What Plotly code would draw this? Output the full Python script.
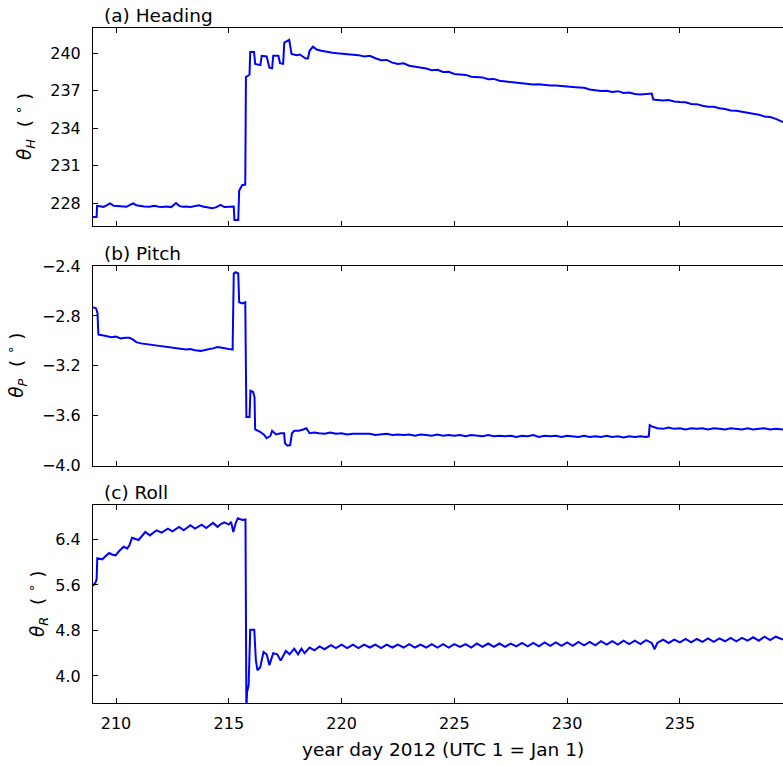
import plotly.graph_objects as go

# ---------------- data ----------------
heading_day = [
    208.98, 209.14, 209.16, 209.3, 209.45, 209.6, 209.74, 209.9, 210.1, 210.3,
    210.47, 210.6, 210.76, 210.9, 211.05, 211.25, 211.49, 211.7, 211.9, 212.05,
    212.22, 212.45, 212.66, 212.8, 212.95, 213.1, 213.3, 213.5, 213.68, 213.85,
    213.98, 214.15, 214.27, 214.45, 214.64, 214.8, 214.95, 215.1, 215.22, 215.25,
    215.42, 215.46, 215.59, 215.73, 215.76, 215.85, 215.92, 215.95, 216.12, 216.17,
    216.4, 216.46, 216.68, 216.8, 216.92, 216.97, 217.2, 217.27, 217.41, 217.46,
    217.68, 217.78, 218.0, 218.15, 218.41, 218.51, 218.58, 218.73, 218.9, 219.1,
    219.32, 219.5, 219.6, 219.8,
    220.0, 220.25, 220.5, 220.75, 221.0, 221.25, 221.5, 221.75, 222.0, 222.25,
    222.5, 222.75, 223.0, 223.25, 223.5, 223.75, 224.0, 224.25, 224.5, 224.75,
    225.0, 225.25, 225.5, 225.75, 226.0, 226.25, 226.5, 226.75, 227.0, 227.25,
    227.5, 227.75, 228.0, 228.25, 228.5, 228.75, 229.0, 229.25, 229.5, 229.75,
    230.0, 230.25, 230.5, 230.75, 231.0, 231.25, 231.5, 231.75, 232.0, 232.25,
    232.5, 232.75, 233.0, 233.25, 233.5, 233.75, 233.82, 234.0, 234.25, 234.5,
    234.75, 235.0, 235.25, 235.5, 235.75, 236.0, 236.25, 236.5, 236.75, 237.0,
    237.25, 237.5, 237.75, 238.0, 238.25, 238.5, 238.75, 239.0, 239.25, 239.57,
]
heading_val = [
    226.9, 226.9, 227.8, 227.75, 227.72, 227.85, 228.0, 227.8, 227.78, 227.72,
    227.72, 227.85, 228.0, 227.85, 227.8, 227.75, 227.72, 227.8, 227.72, 227.7,
    227.75, 227.7, 228.02, 227.8, 227.72, 227.75, 227.7, 227.8, 227.85, 227.75,
    227.7, 227.62, 227.6, 227.7, 227.88, 227.7, 227.72, 227.72, 227.74, 226.67,
    226.67, 229.0, 229.45, 229.5, 238.1, 238.2, 238.3, 240.1, 240.1, 239.15,
    239.05, 239.8, 239.75, 238.85, 238.8, 239.8, 239.8, 239.2, 239.15, 240.85,
    241.07, 239.95, 239.85, 239.9, 239.58, 239.58, 240.2, 240.53, 240.3, 240.2,
    240.16, 240.1, 240.05, 240.0,
    239.98, 239.9, 239.93, 239.85, 239.75, 239.8, 239.6, 239.45, 239.47, 239.25,
    239.15, 239.2, 239.0, 238.92, 238.9, 238.78, 238.65, 238.68, 238.5, 238.52,
    238.35, 238.3, 238.27, 238.12, 238.08, 238.07, 237.92, 237.95, 237.8, 237.75,
    237.74, 237.68, 237.6, 237.6, 237.5, 237.53, 237.45, 237.42, 237.42, 237.38,
    237.3, 237.25, 237.27, 237.24, 237.1, 237.05, 236.98, 237.0, 236.9, 236.97,
    236.82, 236.87, 236.75, 236.7, 236.75, 236.78, 236.3, 236.28, 236.22, 236.27,
    236.15, 236.1, 236.08, 235.95, 235.93, 235.8, 235.72, 235.72, 235.6, 235.55,
    235.42, 235.4, 235.33, 235.28, 235.18, 235.08, 234.95, 234.9, 234.75, 234.5,
]

pitch_day = [
    208.98, 209.12, 209.18, 209.22, 209.4, 209.6, 209.8, 210.0, 210.2, 210.4,
    210.6, 210.76, 210.9, 211.1, 211.3, 211.5, 211.7, 211.9, 212.1, 212.3,
    212.5, 212.7, 212.9, 213.1, 213.3, 213.5, 213.76, 213.95, 214.15, 214.3,
    214.5, 214.7, 214.9, 215.07, 215.17, 215.22, 215.3, 215.42, 215.46, 215.6,
    215.73, 215.78, 215.92, 215.96, 216.08, 216.14, 216.17, 216.39, 216.55, 216.68,
    216.85, 216.92, 217.1, 217.3, 217.45, 217.49, 217.6, 217.72, 217.8, 217.9,
    218.1, 218.3, 218.44, 218.58, 218.8,
    219.0, 219.25, 219.5, 219.75, 220.0, 220.25, 220.5, 220.75, 221.0, 221.25,
    221.5, 221.75, 222.0, 222.25, 222.5, 222.75, 223.0, 223.25, 223.5, 223.75,
    224.0, 224.25, 224.5, 224.75, 225.0, 225.25, 225.5, 225.75, 226.0, 226.25,
    226.5, 226.75, 227.0, 227.25, 227.5, 227.75, 228.0, 228.25, 228.5, 228.75,
    229.0, 229.25, 229.5, 229.75, 230.0, 230.25, 230.5, 230.75, 231.0, 231.25,
    231.5, 231.75, 232.0, 232.25, 232.5, 232.75, 233.0, 233.25, 233.5, 233.62,
    233.66, 233.75, 234.0, 234.25, 234.5, 234.75, 235.0, 235.25, 235.5, 235.75,
    236.0, 236.25, 236.5, 236.75, 237.0, 237.25, 237.5, 237.75, 238.0, 238.25,
    238.5, 238.75, 239.0, 239.25, 239.57,
]
pitch_val = [
    -2.73, -2.74, -2.78, -2.95, -2.955, -2.96, -2.97, -2.965, -2.98, -2.975,
    -2.975, -2.99, -3.01, -3.02, -3.025, -3.03, -3.04, -3.045, -3.05, -3.05,
    -3.055, -3.06, -3.065, -3.07, -3.065, -3.075, -3.08, -3.07, -3.065, -3.06,
    -3.05, -3.055, -3.06, -3.07, -3.07, -2.46, -2.45, -2.46, -2.69, -2.70,
    -2.69, -3.61, -3.61, -3.40, -3.41, -3.45, -3.71, -3.73, -3.75, -3.78,
    -3.76, -3.72, -3.75, -3.74, -3.74, -3.82, -3.84, -3.835, -3.74, -3.72,
    -3.72, -3.71, -3.70, -3.74, -3.735,
    -3.74, -3.745, -3.735, -3.745, -3.74, -3.75, -3.745, -3.745, -3.75, -3.745,
    -3.755, -3.75, -3.745, -3.755, -3.75, -3.755, -3.75, -3.76, -3.75, -3.755,
    -3.76, -3.75, -3.76, -3.755, -3.76, -3.755, -3.765, -3.755, -3.76, -3.765,
    -3.755, -3.765, -3.76, -3.765, -3.76, -3.77, -3.76, -3.765, -3.755, -3.77,
    -3.76, -3.765, -3.76, -3.77, -3.76, -3.765, -3.77, -3.76, -3.77, -3.765,
    -3.77, -3.76, -3.77, -3.765, -3.775, -3.765, -3.77, -3.765, -3.77, -3.765,
    -3.675, -3.685, -3.70, -3.705, -3.695, -3.705, -3.70, -3.71, -3.70, -3.705,
    -3.70, -3.71, -3.70, -3.705, -3.71, -3.70, -3.705, -3.71, -3.70, -3.71,
    -3.705, -3.70, -3.71, -3.705, -3.71,
]

roll_day = [
    208.98, 209.1, 209.14, 209.17, 209.39, 209.55, 209.69, 209.85, 209.98, 210.15,
    210.34, 210.5, 210.6, 210.71, 210.85, 211.0, 211.15, 211.3, 211.5, 211.65,
    211.8, 212.02, 212.15, 212.3, 212.5, 212.65, 212.8, 213.0, 213.15, 213.3,
    213.5, 213.65, 213.8, 214.0, 214.15, 214.3, 214.5, 214.65, 214.8, 215.0,
    215.1, 215.2, 215.3, 215.4, 215.6, 215.74, 215.78, 215.81, 215.88, 215.95,
    216.13, 216.2, 216.27, 216.39, 216.54, 216.68, 216.8, 216.97, 217.15, 217.3,
    217.53, 217.7, 217.9, 218.07, 218.22, 218.36, 218.58, 218.8, 219.02, 219.24,
    219.53, 219.75,
    220.0, 220.25, 220.5, 220.75, 221.0, 221.25, 221.5, 221.75, 222.0, 222.25,
    222.5, 222.75, 223.0, 223.25, 223.5, 223.75, 224.0, 224.25, 224.5, 224.75,
    225.0, 225.25, 225.5, 225.75, 226.0, 226.25, 226.5, 226.75, 227.0, 227.25,
    227.5, 227.75, 228.0, 228.25, 228.5, 228.75, 229.0, 229.25, 229.5, 229.75,
    230.0, 230.25, 230.5, 230.75, 231.0, 231.25, 231.5, 231.75, 232.0, 232.25,
    232.5, 232.75, 233.0, 233.25, 233.5, 233.75, 233.88, 234.0, 234.25, 234.5,
    234.75, 235.0, 235.25, 235.5, 235.75, 236.0, 236.25, 236.5, 236.75, 237.0,
    237.25, 237.5, 237.75, 238.0, 238.25, 238.5, 238.75, 239.0, 239.25, 239.57,
]
roll_val = [
    5.58, 5.65, 5.7, 6.07, 6.05, 6.1, 6.16, 6.13, 6.12, 6.2,
    6.27, 6.24, 6.3, 6.43, 6.41, 6.39, 6.46, 6.53, 6.47, 6.51,
    6.56, 6.52, 6.56, 6.59, 6.54, 6.58, 6.62, 6.56, 6.61, 6.65,
    6.59, 6.63, 6.66, 6.6, 6.65, 6.69, 6.62, 6.67, 6.7, 6.66,
    6.71, 6.53, 6.68, 6.77, 6.74, 6.75, 3.40, 3.72, 3.84, 4.81,
    4.81, 4.28, 4.10, 4.15, 4.42, 4.38, 4.19, 4.40, 4.38, 4.27,
    4.44, 4.38, 4.48, 4.38, 4.48, 4.40, 4.50, 4.45, 4.52, 4.47,
    4.54, 4.49,
    4.55, 4.49, 4.55, 4.49, 4.55, 4.50, 4.55, 4.49, 4.55, 4.50,
    4.55, 4.50, 4.56, 4.50, 4.55, 4.50, 4.56, 4.50, 4.56, 4.50,
    4.56, 4.51, 4.56, 4.50, 4.57, 4.51, 4.57, 4.51, 4.57, 4.51,
    4.57, 4.52, 4.58, 4.52, 4.58, 4.52, 4.59, 4.53, 4.59, 4.53,
    4.59, 4.53, 4.60, 4.54, 4.60, 4.54, 4.61, 4.55, 4.61, 4.55,
    4.62, 4.56, 4.62, 4.56, 4.63, 4.58, 4.47, 4.58, 4.64, 4.58,
    4.64, 4.59, 4.65, 4.59, 4.65, 4.60, 4.66, 4.60, 4.66, 4.61,
    4.67, 4.61, 4.67, 4.62, 4.68, 4.62, 4.69, 4.63, 4.69, 4.64,
]

x_tickvals = [210, 215, 220, 225, 230, 235]
x_ticktext = ["210", "215", "220", "225", "230", "235"]
h_tickvals = [228, 231, 234, 237, 240]
h_ticktext = ["228", "231", "234", "237", "240"]
p_tickvals = [-4.0, -3.6, -3.2, -2.8, -2.4]
p_ticktext = ["\u22124.0", "\u22123.6", "\u22123.2", "\u22122.8", "\u22122.4"]
r_tickvals = [4.0, 4.8, 5.6, 6.4]
r_ticktext = ["4.0", "4.8", "5.6", "6.4"]

panel_titles = ["(a) Heading", "(b) Pitch", "(c) Roll"]
y_titles = [
    "<i>θ<sub>H</sub></i>  ( <sup>∘</sup> )",
    "<i>θ<sub>P</sub></i>  ( <sup>∘</sup> )",
    "<i>θ<sub>R</sub></i>  ( <sup>∘</sup> )",
]
x_title = "year day 2012 (UTC 1 = Jan 1)"

# ---------------- figure ----------------
FONT = "DejaVu Sans"
TICK_SIZE = 16
TITLE_SIZE = 18.5
LINE = dict(color="#0000ff", width=2)

fig = go.Figure()
fig.add_trace(go.Scatter(x=heading_day, y=heading_val, mode="lines", line=LINE,
                         xaxis="x", yaxis="y", showlegend=False))
fig.add_trace(go.Scatter(x=pitch_day, y=pitch_val, mode="lines", line=LINE,
                         xaxis="x2", yaxis="y2", showlegend=False))
fig.add_trace(go.Scatter(x=roll_day, y=roll_val, mode="lines", line=LINE,
                         xaxis="x3", yaxis="y3", showlegend=False))

xcommon = dict(range=[208.98, 239.57], tickvals=x_tickvals, ticktext=x_ticktext,
               ticks="inside", ticklen=5, tickwidth=1, tickcolor="#000",
               showline=True, linecolor="#000", linewidth=1, mirror="ticks",
               showgrid=False, zeroline=False,
               tickfont=dict(family=FONT, size=TICK_SIZE, color="#000"),
               ticklabelstandoff=6)
ycommon = dict(ticks="inside", ticklen=5, tickwidth=1, tickcolor="#000",
               showline=True, linecolor="#000", linewidth=1, mirror=False,
               showgrid=False, zeroline=False,
               tickfont=dict(family=FONT, size=TICK_SIZE, color="#000"),
               ticklabelstandoff=8)

doms = [[0.7067, 1.0], [0.3516, 0.6474], [0.0, 0.2933]]

fig.update_layout(
    width=783, height=765,
    margin=dict(l=93, r=0, t=28, b=62),
    paper_bgcolor="white", plot_bgcolor="white",
    font=dict(family=FONT, size=TICK_SIZE, color="#000"),
    xaxis=dict(**xcommon, anchor="y", showticklabels=False, matches="x3"),
    xaxis2=dict(**xcommon, anchor="y2", showticklabels=False, matches="x3"),
    xaxis3=dict(**xcommon, anchor="y3"),
    yaxis=dict(**ycommon, domain=doms[0], anchor="x", range=[226.19, 242.02],
               tickvals=h_tickvals, ticktext=h_ticktext),
    yaxis2=dict(**ycommon, domain=doms[1], anchor="x2", range=[-4.0, -2.4],
                tickvals=p_tickvals, ticktext=p_ticktext),
    yaxis3=dict(**ycommon, domain=doms[2], anchor="x3", range=[3.525, 7.004],
                tickvals=r_tickvals, ticktext=r_ticktext),
)

ytitle_x = [25, 17, 37]
plot_w = 783 - 93
axes_names = ["", "2", "3"]
for i in range(3):
    fig.add_annotation(text=panel_titles[i], xref="x%s domain" % axes_names[i],
                       yref="y%s domain" % axes_names[i], x=9 / plot_w, y=1,
                       xanchor="left", yanchor="bottom", yshift=0, showarrow=False,
                       font=dict(family=FONT, size=TITLE_SIZE, color="#000"))
    fig.add_annotation(text=y_titles[i], xref="paper",
                       yref="y%s domain" % axes_names[i],
                       x=(ytitle_x[i] - 93) / plot_w, y=0.5, textangle=-90,
                       xanchor="center", yanchor="middle", showarrow=False,
                       font=dict(family=FONT, size=TITLE_SIZE, color="#000"))

fig.add_annotation(text=x_title, xref="paper", yref="paper",
                   x=(443 - 93) / plot_w, y=-(749 - 703) / 675,
                   xanchor="center", yanchor="middle", showarrow=False,
                   font=dict(family=FONT, size=TITLE_SIZE, color="#000"))

fig.write_html("out.html")
